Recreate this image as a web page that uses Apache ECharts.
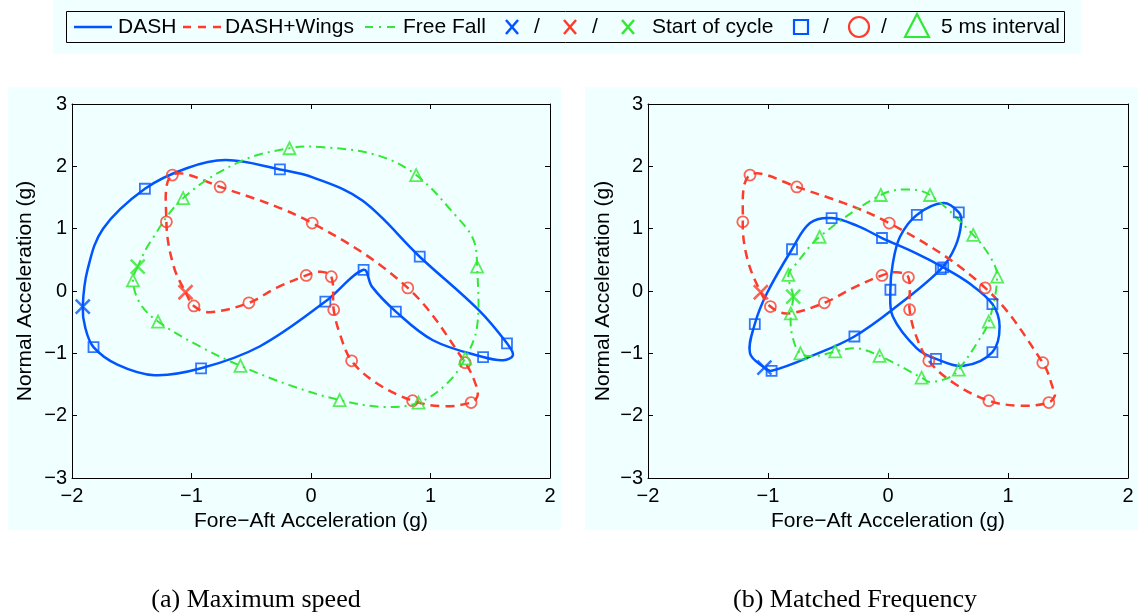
<!DOCTYPE html>
<html><head><meta charset="utf-8">
<script src="https://cdn.jsdelivr.net/npm/echarts@6/dist/echarts.min.js"></script>
<style>html,body{margin:0;padding:0;background:#fff}#c{width:1138px;height:616px}</style>
</head><body><div id="c"></div><script>
// ---------- data (x = fore-aft g, y = normal g); each curve is a closed cycle ----------
const xTicks = [-2, -1, 0, 1, 2];
const yTicks = [-3, -2, -1, 0, 1, 2, 3];
const captions = ['(a) Maximum speed', '(b) Matched Frequency'];
const seriesNames = ['DASH', 'DASH+Wings', 'Free Fall'];

// (a) Maximum speed
const dashA_curve = [[-1.91,-0.25],[-1.89,-0.58],[-1.82,-0.90],[-1.62,-1.18],[-1.31,-1.35],[-0.92,-1.24],[-0.43,-0.89],[0.12,-0.17],[0.44,0.34],[0.51,0.07],[0.71,-0.33],[1.02,-0.79],[1.44,-1.06],[1.61,-1.11],[1.69,-1.03],[1.64,-0.84],[1.40,-0.30],[0.91,0.55],[0.43,1.45],[0.02,1.82],[-0.26,1.95],[-0.71,2.10],[-1.04,1.97],[-1.39,1.64],[-1.74,1.00],[-1.87,0.34]];
const dashA_marks = [[-1.82,-0.90],[-0.92,-1.24],[0.12,-0.17],[0.44,0.34],[0.71,-0.33],[1.44,-1.06],[1.64,-0.84],[0.91,0.55],[-0.26,1.95],[-1.39,1.64]];
const dashA_start = [[-1.91,-0.25]];

const wingsA_curve = [[-1.05,-0.02],[-0.98,-0.24],[-0.85,-0.34],[-0.52,-0.19],[-0.29,0.05],[-0.04,0.25],[0.08,0.31],[0.17,0.23],[0.19,-0.30],[0.24,-0.68],[0.34,-1.12],[0.55,-1.48],[0.85,-1.76],[1.11,-1.85],[1.34,-1.79],[1.39,-1.70],[1.39,-1.56],[1.29,-1.15],[0.81,0.05],[0.01,1.09],[-0.76,1.67],[-1.16,1.86],[-1.21,1.11],[-1.15,0.40]];
const wingsA_marks = [[-0.98,-0.24],[-0.52,-0.19],[-0.04,0.25],[0.17,0.23],[0.19,-0.30],[0.34,-1.12],[0.85,-1.76],[1.34,-1.79],[1.29,-1.15],[0.81,0.05],[0.01,1.09],[-0.76,1.67],[-1.16,1.86],[-1.21,1.11]];
const wingsA_start = [[-1.05,-0.02]];

const freeA_curve = [[-1.45,0.39],[-1.49,0.17],[-1.43,-0.20],[-1.28,-0.49],[-0.93,-0.89],[-0.59,-1.20],[-0.18,-1.51],[0.24,-1.75],[0.61,-1.86],[0.90,-1.79],[1.14,-1.48],[1.29,-1.08],[1.39,-0.57],[1.39,0.39],[1.36,0.82],[1.22,1.19],[0.88,1.86],[0.55,2.18],[0.08,2.31],[-0.18,2.29],[-0.59,2.08],[-1.07,1.49],[-1.35,0.77]];
const freeA_marks = [[-1.49,0.17],[-1.28,-0.49],[-0.59,-1.20],[0.24,-1.75],[0.90,-1.79],[1.29,-1.08],[1.39,0.39],[0.88,1.86],[-0.18,2.29],[-1.07,1.49]];
const freeA_start = [[-1.45,0.39]];

// (b) Matched Frequency
const dashB_curve = [[-1.03,-1.23],[-0.97,-1.28],[-0.62,-1.03],[-0.28,-0.73],[0.07,-0.25],[0.44,0.35],[0.56,0.71],[0.61,1.09],[0.59,1.26],[0.46,1.41],[0.24,1.22],[0.10,0.87],[0.04,0.44],[0.02,0.02],[0.04,-0.41],[0.24,-0.92],[0.40,-1.09],[0.63,-1.20],[0.87,-0.98],[0.93,-0.57],[0.87,-0.21],[0.68,0.12],[0.46,0.38],[0.24,0.60],[-0.05,0.85],[-0.25,1.04],[-0.47,1.17],[-0.65,1.09],[-0.80,0.67],[-1.01,-0.04],[-1.11,-0.53],[-1.15,-1.00]];
const dashB_marks = [[-0.97,-1.28],[-0.28,-0.73],[0.44,0.35],[0.59,1.26],[0.24,1.22],[0.02,0.02],[0.40,-1.09],[0.87,-0.98],[0.87,-0.21],[0.46,0.38],[-0.05,0.85],[-0.47,1.17],[-0.80,0.67],[-1.11,-0.53]];
const dashB_start = [[-1.03,-1.23]];

const wingsB_curve = [[-1.06,-0.02],[-0.98,-0.25],[-0.84,-0.36],[-0.53,-0.19],[-0.29,0.05],[-0.05,0.25],[0.07,0.30],[0.17,0.22],[0.18,-0.30],[0.23,-0.70],[0.34,-1.12],[0.55,-1.48],[0.84,-1.76],[1.10,-1.84],[1.34,-1.79],[1.39,-1.68],[1.38,-1.59],[1.29,-1.15],[0.81,0.05],[0.01,1.09],[-0.76,1.67],[-1.15,1.86],[-1.21,1.11],[-1.17,0.50]];
const wingsB_marks = [[-0.98,-0.25],[-0.53,-0.19],[-0.05,0.25],[0.17,0.22],[0.18,-0.30],[0.34,-1.12],[0.84,-1.76],[1.34,-1.79],[1.29,-1.15],[0.81,0.05],[0.01,1.09],[-0.76,1.67],[-1.15,1.86],[-1.21,1.11]];
const wingsB_start = [[-1.06,-0.02]];

const freeB_curve = [[-0.79,-0.09],[-0.81,-0.36],[-0.80,-0.70],[-0.73,-1.00],[-0.59,-1.04],[-0.44,-0.97],[-0.26,-0.92],[-0.07,-1.04],[0.28,-1.39],[0.35,-1.46],[0.52,-1.38],[0.59,-1.26],[0.74,-0.84],[0.84,-0.49],[0.91,0.23],[0.86,0.52],[0.71,0.90],[0.35,1.54],[0.16,1.63],[-0.06,1.54],[-0.57,0.87],[-0.76,0.45],[-0.83,0.26]];
const freeB_marks = [[-0.81,-0.36],[-0.73,-1.00],[-0.44,-0.97],[-0.07,-1.04],[0.28,-1.39],[0.59,-1.26],[0.84,-0.49],[0.91,0.23],[0.71,0.90],[0.35,1.54],[-0.06,1.54],[-0.57,0.87],[-0.83,0.26]];
const freeB_start = [[-0.79,-0.09]];

// ---------- styles ----------
const BLUE = '#0055ff', RED = '#ff3b2b', GREEN = '#33e833';
const SANS = '"Liberation Sans", Arial, Helvetica, sans-serif';
const SERIF = '"Liberation Serif", "Times New Roman", serif';
const XPATH = 'path://M0,0L10,10M10,0L0,10';
const fmt = v => (v < 0 ? '\u2212' + Math.abs(v) : String(v));

const styles = [
  {color: BLUE, width: 2.5, dash: null, symbol: 'rect', size: 10},
  {color: RED, width: 2.5, dash: [9, 6], symbol: 'circle', size: 11},
  {color: GREEN, width: 2, dash: [9, 5, 2, 5], symbol: 'triangle', size: 12}
];

const panels = [
  [[dashA_curve, dashA_marks, dashA_start], [wingsA_curve, wingsA_marks, wingsA_start], [freeA_curve, freeA_marks, freeA_start]],
  [[dashB_curve, dashB_marks, dashB_start], [wingsB_curve, wingsB_marks, wingsB_start], [freeB_curve, freeB_marks, freeB_start]]
];

const grids = [
  {left: 72, top: 104, width: 478, height: 374},
  {left: 648, top: 104, width: 480, height: 374}
];

const xAxes = [], yAxes = [];
grids.forEach((g, gi) => {
  const lineS = {show: true, onZero: false, lineStyle: {color: '#000', width: 1}};
  const tickS = {show: true, inside: true, length: 5, lineStyle: {color: '#000', width: 1}};
  const lab = {color: '#000', fontSize: 20, fontFamily: SANS};
  xAxes.push({type: 'value', gridIndex: gi, min: xTicks[0], max: xTicks[xTicks.length - 1], interval: 1,
    position: 'bottom', axisLine: lineS, axisTick: tickS, splitLine: {show: false},
    axisLabel: Object.assign({margin: 8, formatter: fmt, showMinLabel: true, showMaxLabel: true}, lab),
    name: 'Fore\u2212Aft Acceleration (g)', nameLocation: 'middle', nameGap: 32,
    nameTextStyle: {color: '#000', fontSize: 21, fontFamily: SANS}});
  xAxes.push({type: 'value', gridIndex: gi, min: xTicks[0], max: xTicks[xTicks.length - 1], interval: 1,
    position: 'top', axisLine: lineS, axisTick: tickS, splitLine: {show: false}, axisLabel: {show: false}});
  yAxes.push({type: 'value', gridIndex: gi, min: yTicks[0], max: yTicks[yTicks.length - 1], interval: 1,
    position: 'left', axisLine: lineS, axisTick: tickS, splitLine: {show: false},
    axisLabel: Object.assign({margin: 5, formatter: fmt, showMinLabel: true, showMaxLabel: true}, lab),
    name: 'Normal Acceleration (g)', nameLocation: 'middle', nameGap: gi === 0 ? 36 : 34, nameRotate: 90,
    nameTextStyle: {color: '#000', fontSize: 21, fontFamily: SANS}});
  yAxes.push({type: 'value', gridIndex: gi, min: yTicks[0], max: yTicks[yTicks.length - 1], interval: 1,
    position: 'right', axisLine: lineS, axisTick: tickS, splitLine: {show: false}, axisLabel: {show: false}});
});

// closed smooth cycle drawn through the axis scales (api.coord)
function loopSeries(name, curve, st, gi, z) {
  return {
    type: 'custom', name: name, xAxisIndex: gi * 2, yAxisIndex: gi * 2, data: curve,
    encode: {x: 0, y: 1}, silent: true, animation: false, z: z, clip: false,
    renderItem: function (params, api) {
      if (params.dataIndex !== 0) return null;
      const pts = curve.map(p => api.coord(p));
      return {type: 'polygon', shape: {points: pts, smooth: 0.36},
        style: {fill: 'none', stroke: st.color, lineWidth: st.width, lineDash: st.dash || null}};
    }
  };
}

const series = [];
panels.forEach((sets, gi) => {
  sets.forEach((d, si) => {
    const st = styles[si];
    series.push(loopSeries(seriesNames[si], d[0], st, gi, 3 + si));
    series.push({type: 'scatter', name: seriesNames[si] + ' 5 ms', xAxisIndex: gi * 2, yAxisIndex: gi * 2, data: d[1],
      symbol: st.symbol, symbolSize: st.size, silent: true, animation: false, z: 6 + si,
      itemStyle: {color: 'rgba(0,0,0,0)', borderColor: st.color, borderWidth: 1.8}});
    series.push({type: 'scatter', name: seriesNames[si] + ' start', xAxisIndex: gi * 2, yAxisIndex: gi * 2, data: d[2],
      symbol: XPATH, symbolSize: 14, silent: true, animation: false, z: 9 + si,
      itemStyle: {color: 'rgba(0,0,0,0)', borderColor: st.color, borderWidth: 2.5}});
  });
});

// ---------- legend & decorations ----------
const LY = 27;
const gtext = (t, x, y, opt) => Object.assign({type: 'text', z: 20, style: Object.assign({text: t, x: x, y: y,
  fill: '#000', fontSize: 21, fontFamily: SANS, verticalAlign: 'middle', align: 'left'}, opt || {})});
const xMark = (cx, col) => ({type: 'group', z: 20, children: [
  {type: 'line', shape: {x1: cx - 6, y1: LY - 7, x2: cx + 6, y2: LY + 7}, style: {stroke: col, lineWidth: 2.5}},
  {type: 'line', shape: {x1: cx + 6, y1: LY - 7, x2: cx - 6, y2: LY + 7}, style: {stroke: col, lineWidth: 2.5}}
]});

const graphic = [
  {type: 'rect', z: -10, shape: {x: 8, y: 87, width: 553, height: 443}, style: {fill: '#f0ffff'}},
  {type: 'rect', z: -10, shape: {x: 585, y: 87, width: 553, height: 443}, style: {fill: '#f0ffff'}},
  {type: 'rect', z: -10, shape: {x: 53, y: 0, width: 1028, height: 54}, style: {fill: '#f0ffff'}},
  {type: 'rect', z: 19, shape: {x: 66.5, y: 11.5, width: 998, height: 31}, style: {fill: 'rgba(0,0,0,0)', stroke: '#000', lineWidth: 1}},
  {type: 'line', z: 20, shape: {x1: 74, y1: LY, x2: 112, y2: LY}, style: {stroke: BLUE, lineWidth: 2.5}},
  gtext(seriesNames[0], 118, LY),
  {type: 'line', z: 20, shape: {x1: 183, y1: LY, x2: 222, y2: LY}, style: {stroke: RED, lineWidth: 2.5, lineDash: [8, 7]}},
  gtext(seriesNames[1], 225, LY),
  {type: 'line', z: 20, shape: {x1: 365, y1: LY, x2: 399, y2: LY}, style: {stroke: GREEN, lineWidth: 2, lineDash: [8, 6, 2, 6]}},
  gtext(seriesNames[2], 403, LY),
  xMark(512, BLUE), gtext('/', 537, LY, {align: 'center'}),
  xMark(570, RED), gtext('/', 595, LY, {align: 'center'}),
  xMark(628, GREEN), gtext('Start of cycle', 652, LY),
  {type: 'rect', z: 20, shape: {x: 794, y: LY - 7, width: 14, height: 14}, style: {fill: 'rgba(0,0,0,0)', stroke: BLUE, lineWidth: 2.2}},
  gtext('/', 826, LY, {align: 'center'}),
  {type: 'circle', z: 20, shape: {cx: 859, cy: LY, r: 10}, style: {fill: 'rgba(0,0,0,0)', stroke: RED, lineWidth: 2.2}},
  gtext('/', 884, LY, {align: 'center'}),
  {type: 'polygon', z: 20, shape: {points: [[917, LY - 13], [929, LY + 10], [905, LY + 10]]}, style: {fill: 'rgba(0,0,0,0)', stroke: GREEN, lineWidth: 2.2}},
  gtext('5 ms interval', 941, LY),
  gtext(captions[0], 256, 600, {align: 'center', fontSize: 26, fontFamily: SERIF}),
  gtext(captions[1], 855, 600, {align: 'center', fontSize: 26, fontFamily: SERIF})
];

const chart = echarts.init(document.getElementById('c'), null, {renderer: 'canvas'});
chart.setOption({
  backgroundColor: '#ffffff',
  animation: false,
  grid: grids,
  xAxis: xAxes,
  yAxis: yAxes,
  series: series,
  graphic: graphic
});
</script></body></html>
